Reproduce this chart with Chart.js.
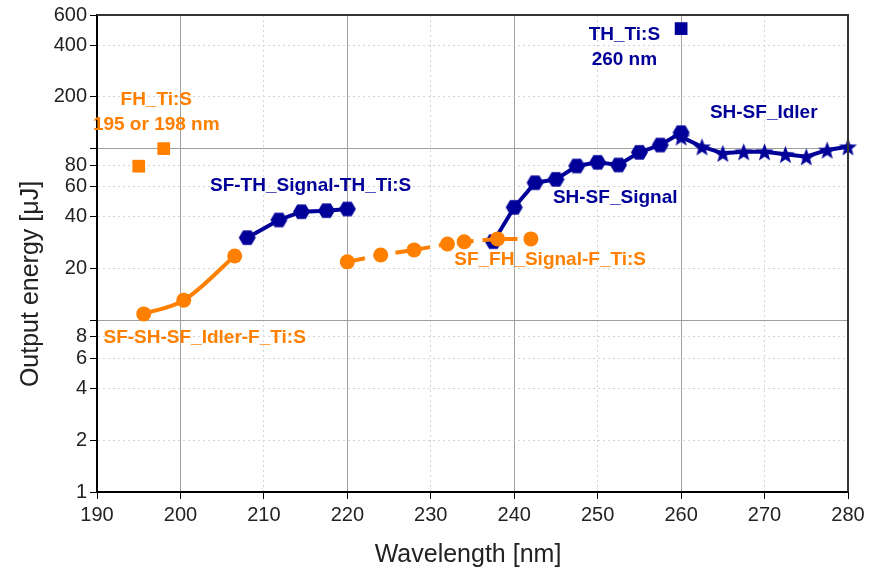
<!DOCTYPE html>
<html>
<head>
<meta charset="utf-8">
<script src="https://cdn.jsdelivr.net/npm/chart.js@4.4.1/dist/chart.umd.min.js"></script>
<style>
  html, body { margin: 0; padding: 0; background: #fff; }
  #wrap { width: 871px; height: 573px; }
</style>
</head>
<body>
<div id="wrap"><canvas id="chart" width="871" height="573"></canvas></div>
<script>
const ORANGE = '#ff8000';
const NAVY = '#000099';

// wavelength [nm] / output energy [uJ]
const fhX = [195, 198];
const fhY = [79, 100];

const thX = [260];
const thY = [500];

const sfShIdlerX = [195.6, 200.4, 206.5];
const sfShIdlerY = [10.9, 13.1, 23.7];

const sfThSignalX = [208, 211.8, 214.5, 217.5, 220];
const sfThSignalY = [30.3, 38.4, 42.9, 43.5, 44.5];

const sfFhSignalX = [220, 224, 228, 232, 234, 238, 242];
const sfFhSignalY = [21.9, 24.0, 25.7, 27.8, 28.7, 29.8, 29.8];

const shSfSignalX = [237.5, 240, 242.5, 245, 247.5, 250, 252.5, 255, 257.5, 260];
const shSfSignalY = [28.7, 45.5, 63.3, 66.2, 79.2, 83.2, 80.3, 95.1, 104.9, 123.8];

const shSfIdlerX = [260, 262.5, 265, 267.5, 270, 272.5, 275, 277.5, 280];
const shSfIdlerY = [117, 102.6, 93.9, 95.9, 95.9, 92.6, 89.7, 98.2, 102.6];

const yTicks = [1, 2, 4, 6, 8, 10, 20, 40, 60, 80, 100, 200, 400, 600];
const yMajor = [10, 100];
const xMajor = [200, 220, 240, 260];

// text labels placed in data coordinates
const notes = [
  { text: 'FH_Ti:S', x: 197.1, y: 192, color: ORANGE },
  { text: '195 or 198 nm', x: 197.1, y: 137, color: ORANGE },
  { text: 'TH_Ti:S', x: 253.2, y: 459, color: NAVY },
  { text: '260 nm', x: 253.2, y: 328, color: NAVY },
  { text: 'SH-SF_Idler', x: 269.9, y: 161, color: NAVY },
  { text: 'SF-TH_Signal-TH_Ti:S', x: 215.6, y: 60.6, color: NAVY },
  { text: 'SH-SF_Signal', x: 252.1, y: 51.6, color: NAVY },
  { text: 'SF_FH_Signal-F_Ti:S', x: 244.3, y: 22.4, color: ORANGE },
  { text: 'SF-SH-SF_Idler-F_Ti:S', x: 202.9, y: 7.9, color: ORANGE },
];

const pts = (xs, ys) => xs.map((x, i) => ({ x, y: ys[i] }));

function hexagon(r, color) {
  const s = Math.ceil(r * 2 + 2);
  const c = document.createElement('canvas');
  c.width = c.height = s;
  const g = c.getContext('2d');
  g.fillStyle = color;
  g.beginPath();
  for (let i = 0; i < 6; i++) {
    const a = Math.PI / 3 * i;
    g.lineTo(s / 2 + r * Math.cos(a), s / 2 + r * Math.sin(a));
  }
  g.closePath();
  g.fill();
  return c;
}

function star(r, color) {
  const s = Math.ceil(r * 2 + 2);
  const c = document.createElement('canvas');
  c.width = c.height = s;
  const g = c.getContext('2d');
  g.fillStyle = color;
  g.beginPath();
  for (let i = 0; i < 10; i++) {
    const a = -Math.PI / 2 + Math.PI / 5 * i;
    const rr = i % 2 ? r * 0.42 : r;
    g.lineTo(s / 2 + rr * Math.cos(a), s / 2 + 1 + rr * Math.sin(a));
  }
  g.closePath();
  g.fill();
  return c;
}

const hexMark = hexagon(8.5, NAVY);
const starMark = star(9.5, NAVY);

const frameAndText = {
  id: 'frameAndText',
  afterDatasetsDraw(chart) {
    const { ctx, chartArea: a, scales: { x, y } } = chart;
    ctx.save();
    ctx.strokeStyle = '#333';
    ctx.lineWidth = 2;
    ctx.beginPath();
    ctx.moveTo(a.left, a.top);
    ctx.lineTo(a.right, a.top);
    ctx.lineTo(a.right, a.bottom);
    ctx.stroke();

    ctx.font = 'bold 19px "Liberation Sans", Arial, sans-serif';
    ctx.textAlign = 'center';
    ctx.textBaseline = 'middle';
    notes.forEach(n => {
      ctx.fillStyle = n.color;
      ctx.fillText(n.text, x.getPixelForValue(n.x), y.getPixelForValue(n.y));
    });

    ctx.fillStyle = '#222';
    ctx.font = '25px "Liberation Sans", Arial, sans-serif';
    ctx.fillText('Wavelength [nm]', 468, 555);
    ctx.translate(31, 284);
    ctx.rotate(-Math.PI / 2);
    ctx.fillText('Output energy [\u03bcJ]', 0, 0);
    ctx.restore();
  }
};

new Chart(document.getElementById('chart'), {
  type: 'scatter',
  data: {
    datasets: [
      {
        label: 'FH_Ti:S', data: pts(fhX, fhY), showLine: false,
        pointStyle: 'rect', pointRadius: 9, backgroundColor: ORANGE, borderWidth: 0,
      },
      {
        label: 'TH_Ti:S', data: pts(thX, thY), showLine: false,
        pointStyle: 'rect', pointRadius: 9, backgroundColor: NAVY, borderWidth: 0,
      },
      {
        label: 'SF-SH-SF_Idler-F_Ti:S', data: pts(sfShIdlerX, sfShIdlerY), showLine: true,
        borderColor: ORANGE, backgroundColor: ORANGE, borderWidth: 4,
        cubicInterpolationMode: 'monotone', pointRadius: 7.5, pointBorderWidth: 0,
      },
      {
        label: 'SF_FH_Signal-F_Ti:S', data: pts(sfFhSignalX, sfFhSignalY), showLine: true,
        borderColor: ORANGE, backgroundColor: ORANGE, borderWidth: 4,
        borderDash: [13, 9], borderDashOffset: -5, pointRadius: 7.5, pointBorderWidth: 0,
      },
      {
        label: 'SF-TH_Signal-TH_Ti:S', data: pts(sfThSignalX, sfThSignalY), showLine: true,
        borderColor: NAVY, borderWidth: 4, pointStyle: hexMark,
      },
      {
        label: 'SH-SF_Signal', data: pts(shSfSignalX, shSfSignalY), showLine: true,
        borderColor: NAVY, borderWidth: 4, pointStyle: hexMark,
      },
      {
        label: 'SH-SF_Idler', data: pts(shSfIdlerX, shSfIdlerY), showLine: true,
        borderColor: NAVY, borderWidth: 4, pointStyle: starMark,
      },
    ]
  },
  options: {
    responsive: false,
    animation: false,
    events: [],
    clip: false,
    layout: { padding: { left: 0, right: 23, top: 15, bottom: 0 } },
    plugins: { legend: { display: false }, tooltip: { enabled: false } },
    scales: {
      x: {
        type: 'linear', min: 190, max: 280,
        afterFit: s => { s.height = 81; },
        ticks: { stepSize: 10, color: '#222', padding: 4, font: { size: 20, family: '"Liberation Sans", Arial' } },
        grid: {
          color: c => xMajor.includes(c.tick && c.tick.value) ? '#a0a0a0' : '#d4d4d4',
          lineWidth: 1, tickColor: '#000', tickLength: 7,
        },
        border: {
          color: '#000', width: 2,
          dash: c => (c.tick && !xMajor.includes(c.tick.value)) ? [2, 3] : [],
        },
      },
      y: {
        type: 'logarithmic', min: 1, max: 600,
        afterFit: s => { s.width = 97; },
        afterBuildTicks: s => { s.ticks = yTicks.map(v => ({ value: v })); },
        ticks: {
          color: '#222', padding: 3, autoSkip: false,
          font: { size: 20, family: '"Liberation Sans", Arial' },
          callback: v => yMajor.includes(v) ? '' : String(v),
        },
        grid: {
          color: c => yMajor.includes(c.tick && c.tick.value) ? '#a0a0a0' : '#d4d4d4',
          lineWidth: 1, tickColor: '#000', tickLength: 7,
        },
        border: {
          color: '#000', width: 2,
          dash: c => (c.tick && !yMajor.includes(c.tick.value)) ? [2, 3] : [],
        },
      },
    },
  },
  plugins: [frameAndText],
});
</script>
</body>
</html>
